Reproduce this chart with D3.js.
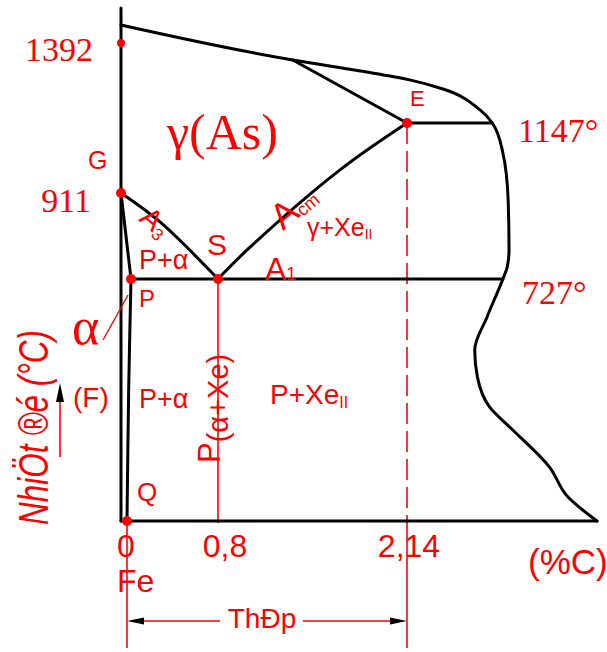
<!DOCTYPE html>
<html>
<head>
<meta charset="utf-8">
<script src="https://cdn.jsdelivr.net/npm/d3@7"></script>
<style>
  body { margin: 0; background: #fff; }
  svg { display: block; }
</style>
</head>
<body>
<svg id="chart" width="607" height="652"></svg>
<script>
// Phase boundaries of the steel part of the Fe–C diagram, as [%C, °C]
const liquidusAndBreak = [[0,1499],[1.33,1340],[1.81,1306],[2.17,1279],[2.55,1251],[2.97,1187],[3.11,1147],
  [3.23,1046],[3.29,896],[3.30,789],[3.28,753],[3.23,727],[3.05,613],[2.91,514],[2.94,433],[3.08,342],
  [3.34,274],[3.76,162],[3.97,72],[4.3,0]];
const solidusJE = [[1.33,1340],[2.14,1147]];
const acmLine = [[2.14,1147],[1.665,989],[1.027,795],[0.8,727]];
const a3Line = [[0,911],[0.28,849],[0.8,727]];
const gpLine = [[0,911],[0.02,727]];
const pqLine = [[0.02,727],[0.012,400],[0.006,0]];
const eutectoidLine = [[0.02,727],[3.23,727]];
const eutecticLine = [[2.14,1147],[3.11,1147]];
const ironLine = [[0,0],[0,1539]];
const baseLine = [[0,0],[4.3,0]];

const keyPoints = [[0,1392],[0,911],[0.02,727],[0.8,727],[2.14,1147],[0.006,0]];
const tempTicks = [1392, 911, 1147, 727];
const tempTickLabels = ["1392", "911", "1147°", "727°"];
const carbonTicks = [0.006, 0.8, 2.14];
const carbonTickLabels = ["0", "0,8", "2,14"];
const steelRange = [0.006, 2.14];

const svg = d3.select("#chart");
const RED = "#ff0000";

// Schematic (piecewise) scales
const x = d3.scaleLinear().domain([0, 0.006, 0.02, 0.8, 2.14, 4.3]).range([121, 127, 131, 218, 407, 597]);
const y = d3.scaleLinear().domain([0, 727, 911, 1147, 1392, 1499, 1539]).range([521, 279, 193, 123, 43, 25, 8]);

const straight = d3.line().x(d => x(d[0])).y(d => y(d[1]));
const smooth = d3.line().x(d => x(d[0])).y(d => y(d[1])).curve(d3.curveCatmullRom.alpha(0.5));
const smoothY = d3.line().x(d => x(d[0])).y(d => y(d[1])).curve(d3.curveMonotoneY);

// Red guide lines
const guides = svg.append("g").attr("stroke", RED).attr("stroke-width", 1.6).attr("fill", "none");
guides.append("line").attr("x1", x(0.8)).attr("x2", x(0.8)).attr("y1", y(727)).attr("y2", y(0) + 2);
guides.append("line").attr("x1", x(2.14)).attr("x2", x(2.14)).attr("y1", y(1147)).attr("y2", y(0))
  .attr("stroke-dasharray", "21,7");
guides.append("line").attr("x1", x(2.14)).attr("x2", x(2.14)).attr("y1", y(0)).attr("y2", 648);
guides.append("line").attr("x1", x(0.006)).attr("x2", x(0.006)).attr("y1", y(0)).attr("y2", 648);

// Black phase lines
const lines = svg.append("g").attr("stroke", "#000").attr("stroke-width", 3).attr("fill", "none")
  .attr("stroke-linejoin", "round").attr("stroke-linecap", "round");
lines.append("path").attr("d", straight(ironLine));
lines.append("path").attr("d", straight(baseLine));
lines.append("path").attr("d", smoothY(liquidusAndBreak));
lines.append("path").attr("d", straight(solidusJE));
lines.append("path").attr("d", smooth(acmLine));
lines.append("path").attr("d", smooth(a3Line));
lines.append("path").attr("d", straight(gpLine));
lines.append("path").attr("d", smooth(pqLine));
lines.append("path").attr("d", straight(eutectoidLine));
lines.append("path").attr("d", straight(eutecticLine));

// Key points
svg.append("g").selectAll("circle").data(keyPoints).join("circle")
  .attr("cx", d => x(d[0])).attr("cy", d => y(d[1]))
  .attr("r", (d, i) => i === 0 ? 4 : 5).attr("fill", RED);

const SANS = "'Liberation Sans', Arial, sans-serif";
const SERIF = "'Liberation Serif', 'Times New Roman', serif";

function label(txt, px, py, size, family, anchor) {
  return svg.append("text").attr("x", px).attr("y", py).attr("fill", RED)
    .attr("font-family", family || SANS).attr("font-size", size)
    .attr("text-anchor", anchor || "start").text(txt);
}

// Temperature tick labels
const tempPos = [
  { dx: 93, dy: 18, anchor: "end" },
  { dx: 91, dy: 19, anchor: "end" },
  { dx: 518, dy: 19, anchor: "start" },
  { dx: 522, dy: 25, anchor: "start" }
];
tempTicks.forEach((t, i) => {
  label(tempTickLabels[i], tempPos[i].dx, y(t) + tempPos[i].dy, 34, SERIF, tempPos[i].anchor);
});

// Carbon tick labels
const carbonDx = [-1, 7, 2];
carbonTicks.forEach((c, i) => {
  label(carbonTickLabels[i], x(c) + carbonDx[i], 557, 32, SANS, "middle");
});
label("Fe", 117, 592, 32);
label("(%C)", 528, 574, 35);

// Point names
label("G", 88, y(911) - 24, 25);
label("E", x(2.14) + 3, y(1147) - 17, 22);
label("S", x(0.8) - 11, y(727) - 24, 30);
label("P", x(0.02) + 8, y(727) + 28, 24);
label("Q", x(0.006) + 10, y(0) - 20, 26);

// Phase region labels
label("γ(As)", 167, 149, 50, SERIF);
label("P+α", 139, 269, 27);
label("P+α", 139, 408, 27);

const gx = svg.append("text").attr("x", 307).attr("y", 236).attr("fill", RED)
  .attr("font-family", SANS).attr("font-size", 25);
gx.append("tspan").text("γ+Xe");
gx.append("tspan").attr("font-size", 14).attr("dy", 3).text("II");

const px = svg.append("text").attr("x", 270).attr("y", 404).attr("fill", RED)
  .attr("font-family", SANS).attr("font-size", 28);
px.append("tspan").text("P+Xe");
px.append("tspan").attr("font-size", 16).attr("dy", 4).text("II");

// Critical lines
const a1 = svg.append("text").attr("x", 265).attr("y", 280).attr("fill", RED)
  .attr("font-family", SANS).attr("font-size", 32);
a1.append("tspan").text("A");
a1.append("tspan").attr("font-size", 18).text("1");

const a3 = svg.append("text").attr("transform", "translate(138,220) rotate(41)").attr("fill", RED)
  .attr("font-family", SANS).attr("font-size", 29);
a3.append("tspan").text("A");
a3.append("tspan").attr("font-size", 17).attr("dy", 4).text("3");

const acm = svg.append("text").attr("transform", "translate(283,231) rotate(-40)").attr("fill", RED)
  .attr("font-family", SANS).attr("font-size", 36);
acm.append("tspan").text("A");
acm.append("tspan").attr("font-size", 18).attr("dy", 2).text("cm");

// Pearlite on the eutectoid composition
const pl = svg.append("text").attr("transform", `translate(${x(0.8) + 2},463) rotate(-90)`).attr("fill", RED)
  .attr("font-family", SANS).attr("font-size", 31);
pl.append("tspan").text("P");
pl.append("tspan").attr("font-size", 29).attr("dy", 8).text("(α+Xe)");

// Ferrite with leader
label("α", 72, 344, 52, SERIF);
svg.append("line").attr("x1", 103).attr("y1", 340).attr("x2", 128).attr("y2", 295)
  .attr("stroke", RED).attr("stroke-width", 1.4);

// Vertical axis title and direction arrow
svg.append("text").attr("transform", "translate(48,525) rotate(-90)").attr("fill", RED)
  .attr("font-family", SANS).attr("font-style", "italic").attr("font-size", 43)
  .attr("textLength", 195).attr("lengthAdjust", "spacingAndGlyphs")
  .text("NhiÖt ®é (°C)");
svg.append("line").attr("x1", 60).attr("x2", 60).attr("y1", 457).attr("y2", 395)
  .attr("stroke", RED).attr("stroke-width", 1.6);
svg.append("path").attr("d", "M60,383 L56,402 L64,402 Z").attr("fill", "#000");
label("(F)", 73, 407, 28);

// Steel range dimension
const dimY = 621;
const xa = x(steelRange[0]), xb = x(steelRange[1]);
const dim = svg.append("g").attr("stroke", RED).attr("stroke-width", 1.6);
dim.append("line").attr("x1", xa + 10).attr("x2", 220).attr("y1", dimY).attr("y2", dimY);
dim.append("line").attr("x1", 303).attr("x2", xb - 10).attr("y1", dimY).attr("y2", dimY);
svg.append("path").attr("d", `M${xa},${dimY} L${xa + 17},${dimY - 3.5} L${xa + 17},${dimY + 3.5} Z`).attr("fill", "#000");
svg.append("path").attr("d", `M${xb},${dimY} L${xb - 17},${dimY - 3.5} L${xb - 17},${dimY + 3.5} Z`).attr("fill", "#000");
label("ThÐp", (xa + xb) / 2 - 5, 628, 28, SANS, "middle");
</script>
</body>
</html>
